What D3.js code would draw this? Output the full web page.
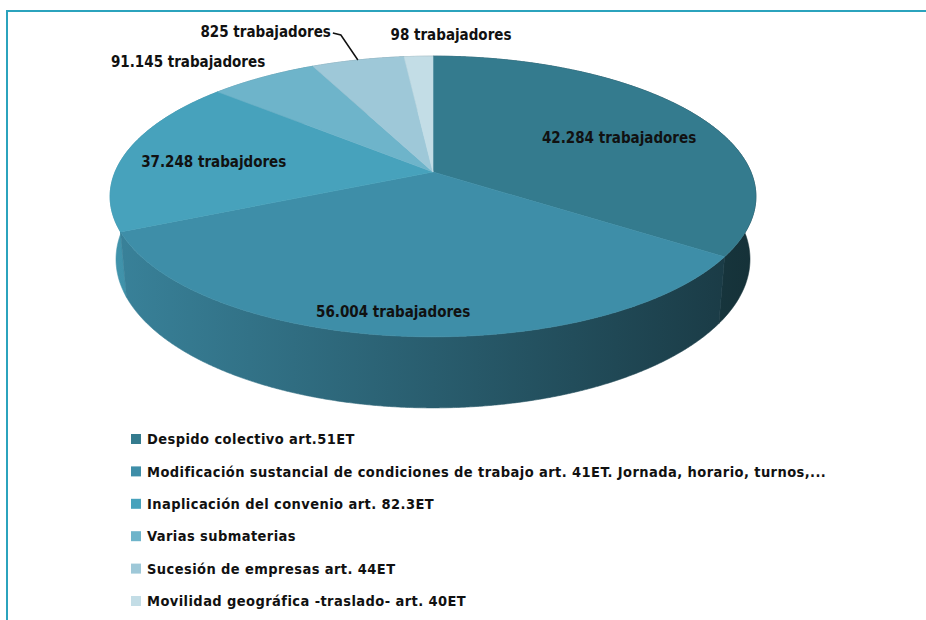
<!DOCTYPE html>
<html>
  <head>
    <meta charset="utf-8">
    <title>Trabajadores afectados por materia</title>
    <script src="https://d3js.org/d3.v7.min.js"></script>
    <style>
      body { margin: 0; background: #fff; }
      svg { display: block; }
    </style>
  </head>
  <body>
<script>

// Data (slice shares as seen on the pie, in %)
var categories = [
  "Despido colectivo art.51ET",
  "Modificación sustancial de condiciones de trabajo art. 41ET. Jornada, horario, turnos,...",
  "Inaplicación del convenio art. 82.3ET",
  "Varias submaterias",
  "Sucesión de empresas art. 44ET",
  "Movilidad geográfica -traslado- art. 40ET"
];
var sliceShares = [34.5, 33.8, 18.1, 6.4, 5.5, 1.7];
var valueLabels = [
  "42.284 trabajadores",
  "56.004 trabajadores",
  "37.248 trabajdores",
  "91.145 trabajadores",
  "825 trabajadores",
  "98 trabajadores"
];
var colors = ["#347b8e", "#3e8ea8", "#47a2bc", "#6eb4ca", "#9ec8d8", "#c3dde6"];

var width = 926, height = 620;

var svg = d3.select("body")
    .append("svg")
    .attr("width", width)
    .attr("height", height);

// frame (only top and left edges are visible in the shot)
svg.append("path")
    .attr("d", "M7," + height + "V11H" + width)
    .attr("fill", "none")
    .attr("stroke", "#2ba3bd")
    .attr("stroke-width", 2);

// 3D projection of the pie disk: unit radius, tilted towards the viewer
var cx = 433, cy = 172,
    focal = 1647, dist = 5.18,
    tilt = Math.asin(0.428),
    depth = 0.219;

function project(theta, r, yy) {
  var X = r * Math.sin(theta),
      Z = -r * Math.cos(theta),
      Yp = yy * Math.cos(tilt) - Z * Math.sin(tilt),
      Zp = yy * Math.sin(tilt) + Z * Math.cos(tilt),
      s = focal / (dist - Zp);
  return [cx + X * s, cy - Yp * s];
}

var pie = d3.pie().sort(null).value(function(d) { return d; });
var arcs = pie(sliceShares);

function rim(a0, a1, yy) {
  var n = Math.max(2, Math.ceil((a1 - a0) / 0.005));
  return d3.range(n + 1).map(function(i) {
    return project(a0 + (a1 - a0) * i / n, 1, yy);
  });
}

var line = d3.line();

// side shading: horizontal gradient, light on the left, dark on the right
var defs = svg.append("defs");
var xLeft = project(-Math.PI * 0.55, 1, 0)[0],
    xRight = project(Math.PI * 0.55, 1, 0)[0];

arcs.forEach(function(d, i) {
  var c = d3.color(colors[i]);
  var g = defs.append("linearGradient")
      .attr("id", "side" + i)
      .attr("gradientUnits", "userSpaceOnUse")
      .attr("x1", xLeft).attr("x2", xRight)
      .attr("y1", 0).attr("y2", 0);
  g.append("stop").attr("offset", 0).attr("stop-color", c.darker(0.25));
  g.append("stop").attr("offset", 1).attr("stop-color", c.darker(2.6));
});

// side walls, far ones first
var order = arcs.map(function(d, i) { return i; })
    .sort(function(a, b) {
      var ma = (arcs[a].startAngle + arcs[a].endAngle) / 2,
          mb = (arcs[b].startAngle + arcs[b].endAngle) / 2;
      return Math.cos(mb) - Math.cos(ma);
    });

svg.append("g").selectAll("path")
    .data(order)
    .enter().append("path")
    .attr("d", function(i) {
      var d = arcs[i];
      var pts = rim(d.startAngle, d.endAngle, 0)
          .concat(rim(d.startAngle, d.endAngle, -depth).reverse());
      return line(pts) + "Z";
    })
    .attr("fill", function(i) { return "url(#side" + i + ")"; })
    .attr("stroke", function(i) { return "url(#side" + i + ")"; })
    .attr("stroke-width", 0.6);

// top faces
svg.append("g").selectAll("path")
    .data(arcs)
    .enter().append("path")
    .attr("d", function(d) {
      return line([[cx, cy]].concat(rim(d.startAngle, d.endAngle, 0))) + "Z";
    })
    .attr("fill", function(d, i) { return colors[i]; })
    .attr("stroke", function(d, i) { return colors[i]; })
    .attr("stroke-width", 0.6);

// data labels: inside ones sit on the slice, outside ones hang off the rim
var labelLayout = [
  {r: 0.7,  dx: 0,   dy: 13,  anchor: "middle"},
  {r: 0.85, dx: -12, dy: 10,  anchor: "middle"},
  {r: 0.7,  dx: -3,  dy: 9,   anchor: "middle"},
  {r: 1,    dx: 2,   dy: -10, anchor: "end"},
  {r: 1,    dx: -27, dy: -23, anchor: "end"},
  {r: 1,    dx: -28, dy: -16, anchor: "start"}
];

var labels = svg.append("g")
    .attr("font-family", "'DejaVu Sans Condensed', 'DejaVu Sans', sans-serif")
    .attr("font-weight", "bold")
    .attr("font-size", 15)
    .attr("fill", "#111");

arcs.forEach(function(d, i) {
  var mid = (d.startAngle + d.endAngle) / 2,
      lay = labelLayout[i],
      p = project(mid, lay.r, 0);
  labels.append("text")
      .attr("x", p[0] + lay.dx)
      .attr("y", p[1] + lay.dy)
      .attr("text-anchor", lay.anchor)
      .text(valueLabels[i]);
});

// leader line for the "Sucesión" label
var sMid = (arcs[4].startAngle + arcs[4].endAngle) / 2,
    sp = project(sMid, 1, 0);
svg.append("path")
    .attr("d", line([sp, [sp[0] - 17, sp[1] - 25], [sp[0] - 25, sp[1] - 27]]))
    .attr("fill", "none")
    .attr("stroke", "#111")
    .attr("stroke-width", 1.5);

// legend
var ly = d3.scalePoint().domain(categories).range([439, 601]);

var legend = svg.append("g")
    .attr("font-family", "'DejaVu Sans Condensed', 'DejaVu Sans', sans-serif")
    .attr("font-weight", "bold")
    .attr("font-size", 14.5)
    .attr("letter-spacing", 0.42)
    .attr("fill", "#111")
  .selectAll("g")
    .data(categories)
    .enter().append("g")
    .attr("transform", function(d) { return "translate(131," + ly(d) + ")"; });

legend.append("rect")
    .attr("y", -5)
    .attr("width", 10)
    .attr("height", 10)
    .attr("fill", function(d, i) { return colors[i]; });

legend.append("text")
    .attr("x", 16)
    .attr("dy", "0.36em")
    .text(function(d) { return d; });

</script>
  </body>
</html>
